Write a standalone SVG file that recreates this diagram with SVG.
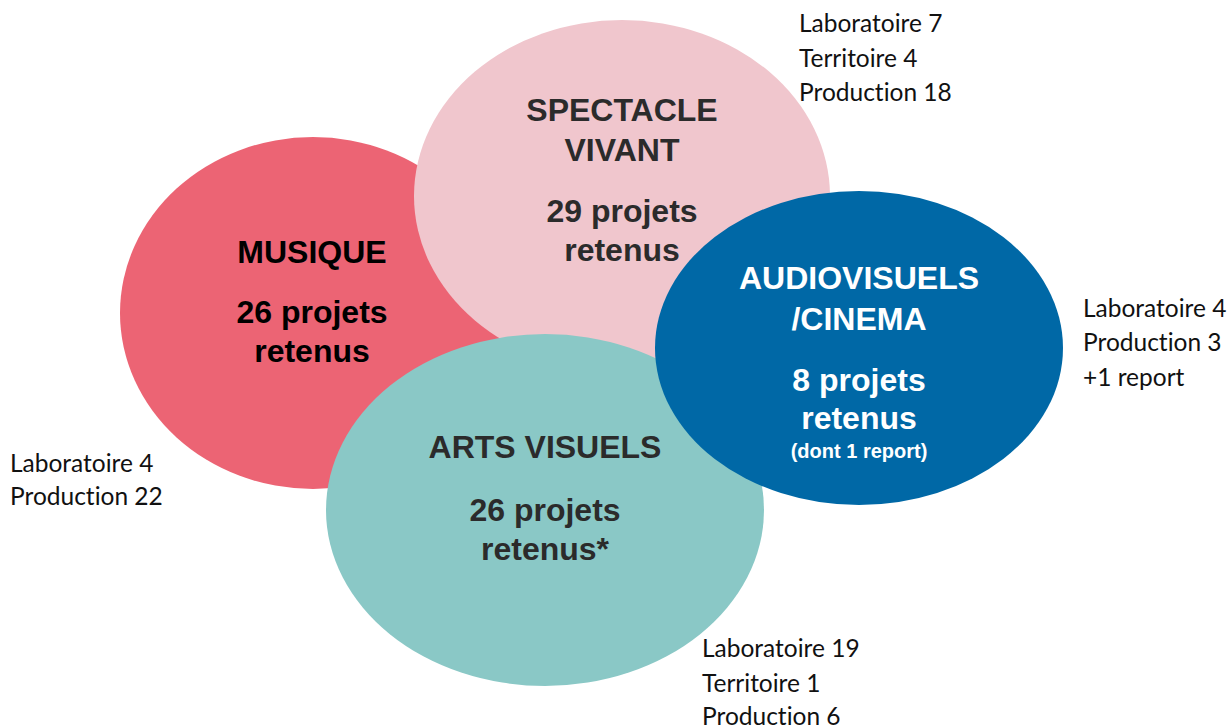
<svg xmlns="http://www.w3.org/2000/svg" width="1229" height="728" viewBox="0 0 1229 728">
<style>
.t{font-family:"Liberation Sans",Arial,sans-serif;font-weight:bold;text-anchor:middle;font-size:32px}
.s{font-size:20px}
.d{fill:#2b2b2b}
.k{fill:#000}
.w{fill:#fff}
.n{font-family:Lato,"Open Sans",sans-serif;font-size:24.5px;fill:#111;font-variant-ligatures:none;font-feature-settings:"liga" 0,"clig" 0,"dlig" 0}
</style>
<rect width="1229" height="728" fill="#fff"/>
<g id="musique">
<ellipse cx="313" cy="313" rx="193" ry="176" fill="#EC6474"/>
</g>
<g id="spectacle">
<ellipse cx="622" cy="196" rx="208" ry="176" fill="#F0C6CD"/>
</g>
<g id="arts">
<ellipse cx="545" cy="510" rx="219" ry="176" fill="#8AC8C6"/>
</g>
<g id="audio">
<ellipse cx="859" cy="348" rx="204" ry="157" fill="#0068A6"/>
</g>
<g id="labels-musique">
<text class="t k" x="312" y="263">MUSIQUE</text>
<text class="t k" x="312" y="323">26 projets</text>
<text class="t k" x="312" y="362">retenus</text>
</g>
<g id="labels-spectacle">
<text class="t d" x="622" y="121">SPECTACLE</text>
<text class="t d" x="622" y="161">VIVANT</text>
<text class="t d" x="622" y="222">29 projets</text>
<text class="t d" x="622" y="261">retenus</text>
</g>
<g id="labels-audio">
<text class="t w" x="859" y="289">AUDIOVISUELS</text>
<text class="t w" x="859" y="330">/CINEMA</text>
<text class="t w" x="859" y="391">8 projets</text>
<text class="t w" x="859" y="429">retenus</text>
<text class="t w s" x="859" y="458">(dont 1 report)</text>
</g>
<g id="labels-arts">
<text class="t d" x="545" y="458">ARTS VISUELS</text>
<text class="t d" x="545" y="521">26 projets</text>
<text class="t d" x="545" y="560">retenus*</text>
</g>
<g id="notes">
<text class="n" x="799" y="32">Laboratoire 7</text>
<text class="n" x="799" y="67">Territoire 4</text>
<text class="n" x="799" y="101">Production 18</text>
<text class="n" x="10" y="472">Laboratoire 4</text>
<text class="n" x="10" y="505">Production 22</text>
<text class="n" x="1083" y="317">Laboratoire 4</text>
<text class="n" x="1083" y="351">Production 3</text>
<text class="n" x="1083" y="386">+1 report</text>
<text class="n" x="702" y="657">Laboratoire 19</text>
<text class="n" x="702" y="692">Territoire 1</text>
<text class="n" x="702" y="725">Production 6</text>
</g>
</svg>
